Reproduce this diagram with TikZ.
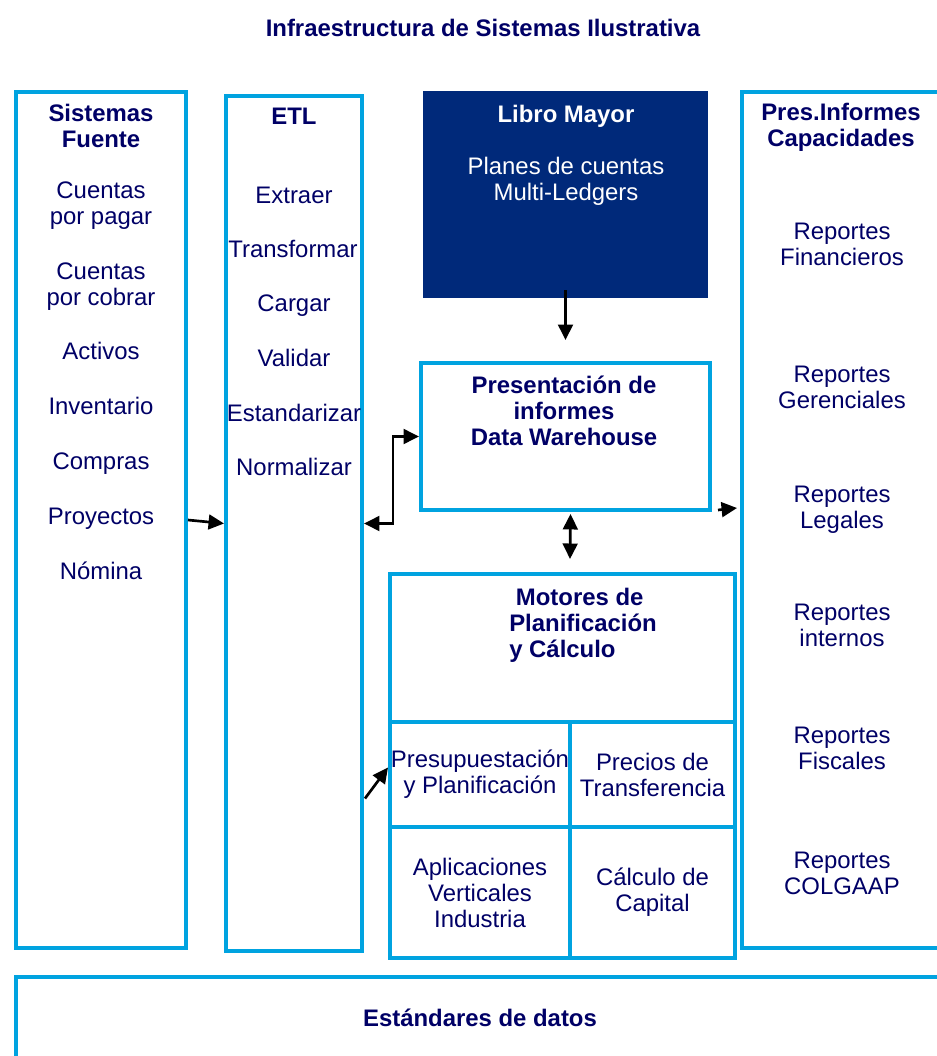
\documentclass[tikz,border=0pt]{standalone}
\usepackage{fontspec}
\setmainfont{Liberation Sans}
\usepackage{tikz}
\usetikzlibrary{calc,arrows.meta}
\definecolor{linea}{RGB}{0,163,224}
\definecolor{tinta}{RGB}{0,0,102}
\definecolor{mayor}{RGB}{0,41,122}
\tikzset{
   caja/.style={draw=linea, line width=2.8pt, rectangle, inner sep=0pt},
   texto/.style={text=tinta, align=center, inner sep=0pt,
                 font=\fontsize{17}{18.5}\selectfont},
   titulo/.style={texto, font=\fontsize{17}{18.5}\selectfont\bfseries},
   flecha/.style={draw=black, line width=1.9pt, >={Triangle[length=11pt,width=10.5pt]}}
}
\begin{document}
\begin{tikzpicture}[x=0.025cm,y=-0.025cm]
\useasboundingbox (0,0) rectangle (937,1056);
\clip (0,0) rectangle (937,1056);
%
\node[titulo] (T) at (483,28) {Infraestructura de Sistemas Ilustrativa};
%
\node[caja,minimum width=4.25cm,minimum height=21.4cm]   (src) at (101,520)     {};
\node[caja,minimum width=3.4cm,minimum height=21.375cm]  (etl) at (294,523.5)   {};
\node[fill=mayor,inner sep=0pt,minimum width=7.125cm,minimum height=5.175cm] (gl) at (565.5,194.5) {};
\node[caja,minimum width=7.225cm,minimum height=3.675cm] (dw)  at (565.5,436.5) {};
\node[caja,minimum width=8.625cm,minimum height=9.6cm]   (mot) at (562.5,766)   {};
\node[caja,minimum width=5.45cm,minimum height=21.4cm]   (rep) at (851,520)     {};
\node[caja,minimum width=23.6cm,minimum height=2.575cm]  (std) at (488,1028.5)  {};
%
\node[caja,texto,minimum width=4.5cm,minimum height=2.625cm]   (pp) at (480,774.5)   {Presupuestación\\y Planificación};
\node[caja,texto,minimum width=4.125cm,minimum height=2.625cm] (pt) at (652.5,774.5) {Precios de\\Transferencia};
\node[caja,texto,minimum width=4.5cm,minimum height=3.275cm]   (av) at (480,892.5)   {Aplicaciones\\Verticales\\Industria};
\node[caja,texto,minimum width=4.125cm,minimum height=3.275cm] (cc) at (652.5,892.5) {Cálculo de\\Capital};
%
\node[titulo] (s0) at (101,126) {Sistemas\\Fuente};
\node[texto]  (s1) at (101,206) {Cuentas\\por pagar};
\node[texto]  (s2) at (101,287) {Cuentas\\por cobrar};
\node[texto]  (s3) at (101,351) {Activos};
\node[texto]  (s4) at (101,406) {Inventario};
\node[texto]  (s5) at (101,464) {Compras};
\node[texto]  (s6) at (101,519) {Proyectos};
\node[texto]  (s7) at (101,571) {Nómina};
%
\node[titulo] (e0) at (294,116) {ETL};
\node[texto]  (e1) at (294,195) {Extraer};
\node[texto]  (e2) at (293,249) {Transformar};
\node[texto]  (e3) at (294,306) {Cargar};
\node[texto]  (e4) at (294,358) {Validar};
\node[texto]  (e5) at (294,413) {Estandarizar};
\node[texto]  (e6) at (294,467) {Normalizar};
%
\node[titulo,text=white] (g0) at (566,116) {Libro Mayor};
\node[texto,text=white]  (g1) at (566,181) {Planes de cuentas\\Multi-Ledgers};
\node[titulo] (d0) at (564,411) {Presentación de\\informes\\Data Warehouse};
\node[titulo,align=left,anchor=west] (m0) at (509,625) {\ Motores de\\Planificación\\y Cálculo};
%
\node[titulo] (r0) at (841,127) {Pres.Informes\\Capacidades};
\node[texto]  (r1) at (842,244) {Reportes\\Financieros};
\node[texto]  (r2) at (842,387) {Reportes\\Gerenciales};
\node[texto]  (r3) at (842,510) {Reportes\\Legales};
\node[texto]  (r4) at (842,625) {Reportes\\internos};
\node[texto]  (r5) at (842,748) {Reportes\\Fiscales};
\node[texto]  (r6) at (842,873) {Reportes\\COLGAAP};
%
\node[titulo] (x0) at (480,1018) {Estándares de datos};
%
\draw[flecha,->]  (src.east) -- (etl.west);
\draw[flecha,<->] (etl.east) -- ($(etl.east)+(29,0)$) |- (dw.west);
\draw[flecha,->]  ($(gl.south)+(0,-8)$) -- ($(dw.north)+(0,-21)$);
\draw[flecha,<->] ($(dw.south)+(5,2)$) -- ($(mot.north)+(7.5,-13)$);
\draw[flecha,->]  ($(dw.south east)+(6,-2)$) -- ($(rep.west)+(-3,-12)$);
\draw[flecha,->]  ($(etl.east)+(1,275)$) -- ($(pp.west)+(0,-7)$);
\end{tikzpicture}
\end{document}
